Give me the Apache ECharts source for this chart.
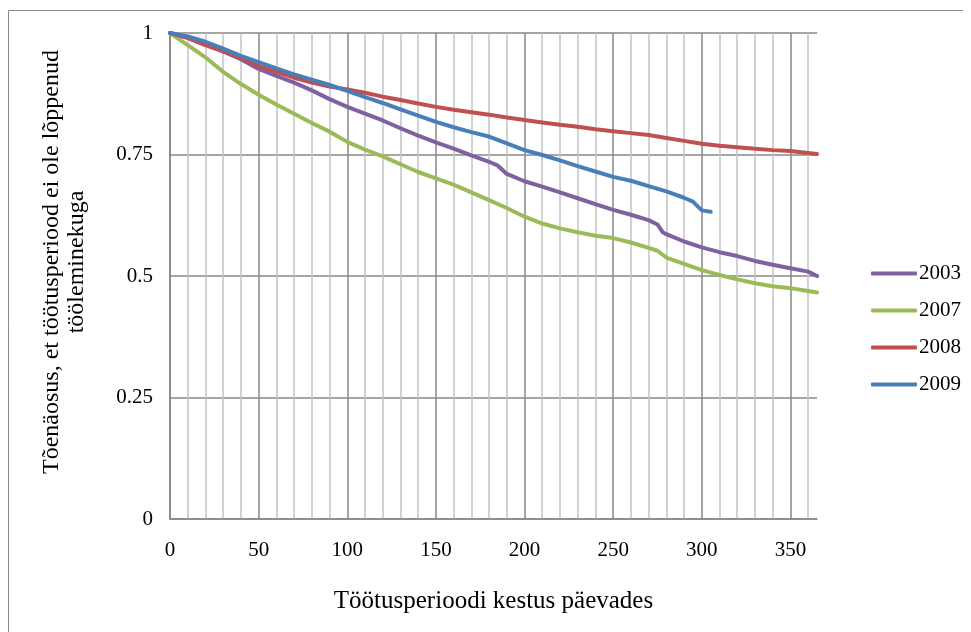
<!DOCTYPE html>
<html>
<head>
<meta charset="utf-8">
<script src="https://cdn.jsdelivr.net/npm/echarts@6/dist/echarts.min.js"></script>
<style>
html,body{margin:0;padding:0;background:#fff;}
#c{width:971px;height:632px;}
</style>
</head>
<body>
<div id="c"></div>
<script>
// ---- data ----
const seriesNames = ['2003', '2007', '2008', '2009'];

const days2003 = [0,10,20,30,40,50,60,70,80,90,100,110,120,130,140,150,160,170,180,185,190,200,210,220,230,240,250,260,270,275,278,280,290,300,310,320,330,340,350,360,365];
const surv2003 = [1.0,0.99,0.976,0.962,0.946,0.926,0.912,0.898,0.882,0.864,0.848,0.834,0.82,0.804,0.789,0.775,0.762,0.748,0.735,0.727,0.71,0.695,0.684,0.672,0.66,0.648,0.636,0.626,0.615,0.606,0.59,0.586,0.571,0.559,0.549,0.541,0.531,0.523,0.516,0.509,0.5];

const days2007 = [0,10,20,30,40,50,60,70,80,90,100,110,120,130,140,150,160,170,180,190,200,210,220,230,240,250,260,270,275,280,290,300,310,320,330,340,350,360,365];
const surv2007 = [1.0,0.975,0.95,0.92,0.895,0.873,0.853,0.834,0.815,0.797,0.776,0.76,0.746,0.73,0.714,0.701,0.688,0.672,0.656,0.64,0.622,0.608,0.598,0.59,0.583,0.578,0.569,0.558,0.552,0.538,0.525,0.512,0.502,0.493,0.485,0.479,0.475,0.469,0.466];

const days2008 = [0,10,20,30,40,50,60,70,80,90,100,110,120,130,140,150,160,170,180,190,200,210,220,230,240,250,260,270,280,290,300,310,320,330,340,350,360,365];
const surv2008 = [1.0,0.99,0.975,0.962,0.948,0.932,0.92,0.908,0.898,0.89,0.884,0.877,0.869,0.862,0.855,0.848,0.842,0.837,0.832,0.826,0.821,0.816,0.811,0.807,0.802,0.798,0.794,0.79,0.784,0.778,0.772,0.768,0.765,0.762,0.759,0.757,0.753,0.751];

const days2009 = [0,10,20,30,40,50,60,70,80,90,100,110,120,130,140,150,160,170,180,190,200,210,220,230,240,250,260,270,280,290,295,300,305];
const surv2009 = [1.0,0.993,0.982,0.968,0.953,0.94,0.927,0.915,0.904,0.893,0.881,0.868,0.856,0.843,0.83,0.817,0.806,0.796,0.787,0.773,0.759,0.749,0.738,0.726,0.715,0.704,0.696,0.685,0.674,0.661,0.653,0.635,0.632];

const xTickLabels = [0,50,100,150,200,250,300,350];
const yTickLabels = ['0','0.25','0.5','0.75','1'];
const xTitle = 'Töötusperioodi kestus päevades';
const yTitle = 'Tõenäosus, et töötusperiood ei ole lõppenud\ntööleminekuga';

// ---- chart ----
const colors = ['#7F60A1', '#9BBB59', '#C0504D', '#4A7EBB'];
const FONT = '"Liberation Serif", "Times New Roman", serif';

function pairs(xs, ys) { return xs.map((x, i) => [x, ys[i]]); }
const allDays = [days2003, days2007, days2008, days2009];
const allSurv = [surv2003, surv2007, surv2008, surv2009];

// split line colours: major every 50, minor every 10, none at 365
const vColors = [];
for (let v = 0; v <= 360; v += 10) vColors.push(v % 50 === 0 ? '#878787' : '#C3C3C3');
vColors.push('rgba(0,0,0,0)');

const chart = echarts.init(document.getElementById('c'), null, {renderer: 'canvas'});
chart.setOption({
  animation: false,
  color: colors,
  textStyle: {fontFamily: FONT, color: '#000'},
  grid: {left: 170, top: 33, right: 154, bottom: 113, containLabel: false},
  graphic: [{
    type: 'polyline', silent: true, z: -10,
    shape: {points: [[8.5, 700], [8.5, 10.5], [963, 10.5]]},
    style: {fill: 'none', stroke: '#8A8A8A', lineWidth: 1}
  }, {
    type: 'text', silent: true,
    x: 64, y: 262, rotation: Math.PI / 2,
    style: {
      text: yTitle, fill: '#000', font: '24px ' + FONT,
      align: 'center', verticalAlign: 'middle', lineHeight: 25
    }
  }],
  legend: {
    orient: 'vertical', left: 866, top: 258,
    itemWidth: 46, itemHeight: 4, itemGap: 16,
    icon: 'roundRect',
    data: seriesNames,
    textStyle: {fontFamily: FONT, fontSize: 21, color: '#000', lineHeight: 21, padding: [0, 0, 0, -3]}
  },
  xAxis: {
    type: 'value', min: 0, max: 365, interval: 10,
    name: xTitle,
    nameLocation: 'middle', nameGap: 70,
    nameTextStyle: {fontFamily: FONT, fontSize: 25, color: '#000'},
    axisLine: {show: true, lineStyle: {color: '#878787', width: 1.5}},
    axisTick: {show: false},
    axisLabel: {
      margin: 21, fontFamily: FONT, fontSize: 21, color: '#000',
      formatter: function (v) { return xTickLabels.indexOf(v) >= 0 ? String(v) : ''; }
    },
    splitLine: {show: true, lineStyle: {color: vColors, width: 1.5}}
  },
  yAxis: {
    type: 'value', min: 0, max: 1, interval: 0.25,
    axisLine: {show: true, lineStyle: {color: '#878787', width: 1.5}},
    axisTick: {show: false},
    axisLabel: {
      margin: 17, fontFamily: FONT, fontSize: 21, color: '#000',
      formatter: function (v) { return yTickLabels[Math.round(v / 0.25)]; }
    },
    splitLine: {show: true, lineStyle: {color: '#878787', width: 1.5}}
  },
  series: seriesNames.map((n, i) => ({
    name: n, type: 'line', showSymbol: false, symbol: 'none',
    data: pairs(allDays[i], allSurv[i]),
    lineStyle: {width: 4, color: colors[i], cap: 'round', join: 'round'},
    itemStyle: {color: colors[i]},
    z: 2 + i
  }))
});
</script>
</body>
</html>
